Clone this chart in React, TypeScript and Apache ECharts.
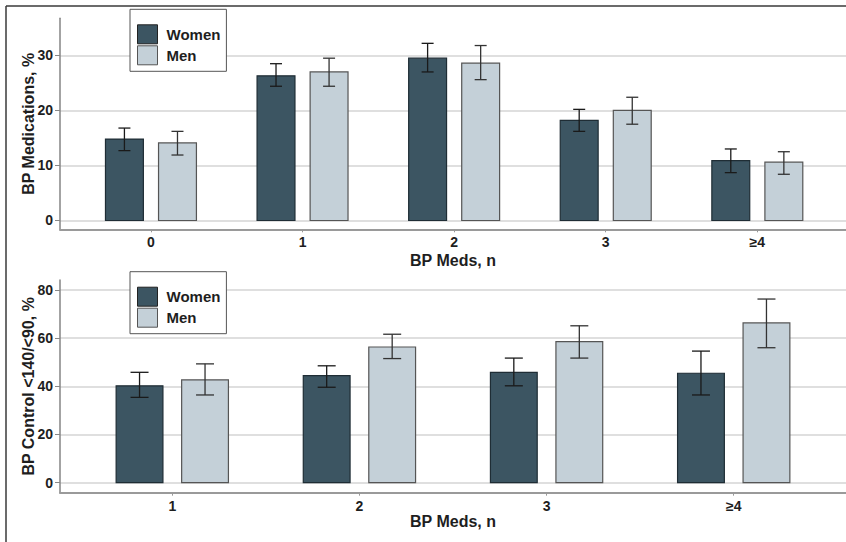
import React, { useEffect, useRef } from 'react';
import * as echarts from 'echarts';

const topCategories = ['0', '1', '2', '3', '≥4'];
const topWomen = [14.8, 26.3, 29.5, 18.2, 10.9];
const topWomenLow = [12.7, 24.4, 27.0, 16.2, 8.7];
const topWomenHigh = [16.8, 28.5, 32.2, 20.2, 13.0];
const topMen = [14.1, 27.0, 28.6, 20.0, 10.6];
const topMenLow = [11.9, 24.4, 25.6, 17.5, 8.4];
const topMenHigh = [16.2, 29.5, 31.8, 22.4, 12.5];
const topYTicks = [0, 10, 20, 30];

const bottomCategories = ['1', '2', '3', '≥4'];
const bottomWomen = [40.2, 44.4, 45.8, 45.4];
const bottomWomenLow = [35.4, 39.6, 40.2, 36.4];
const bottomWomenHigh = [45.8, 48.5, 51.7, 54.6];
const bottomMen = [42.7, 56.3, 58.5, 66.3];
const bottomMenLow = [36.4, 51.5, 51.7, 56.0];
const bottomMenHigh = [49.3, 61.6, 65.1, 76.2];
const bottomYTicks = [0, 20, 40, 60, 80];

const FONT = 'Liberation Sans, Arial, sans-serif';
const WOMEN_FILL = '#3c5562';
const MEN_FILL = '#c4d0d8';
const TEXT = '#1e1e1e';

function makeRender(offset: number, halfWidth: number, capPx: number, fill: string, border: string, errColor: string) {
  return (_params: any, api: any) => {
    const i = api.value(0);
    const v = api.value(1);
    const lo = api.value(2);
    const hi = api.value(3);
    const tl = api.coord([i + offset - halfWidth, v]);
    const br = api.coord([i + offset + halfWidth, 0]);
    const cx = api.coord([i + offset, v])[0];
    const yLo = api.coord([i, lo])[1];
    const yHi = api.coord([i, hi])[1];
    const es = { stroke: errColor, lineWidth: 1.3 };
    return {
      type: 'group',
      children: [
        {
          type: 'rect',
          shape: { x: tl[0], y: tl[1], width: br[0] - tl[0], height: br[1] - tl[1] },
          style: { fill, stroke: border, lineWidth: 1.2 },
        },
        { type: 'line', shape: { x1: cx, y1: yHi, x2: cx, y2: yLo }, style: es },
        { type: 'line', shape: { x1: cx - capPx / 2, y1: yHi, x2: cx + capPx / 2, y2: yHi }, style: es },
        { type: 'line', shape: { x1: cx - capPx / 2, y1: yLo, x2: cx + capPx / 2, y2: yLo }, style: es },
      ],
    };
  };
}

function rows(v: number[], lo: number[], hi: number[]) {
  return v.map((x, i) => [i, x, lo[i], hi[i]]);
}

function xAxisFor(gridIndex: number, cats: string[], max: number, nameGap: number) {
  const idx = cats.map((_, i) => i);
  return {
    type: 'value',
    gridIndex,
    min: -0.6,
    max,
    name: 'BP Meds, n',
    nameLocation: 'middle',
    nameGap,
    nameMoveOverlap: false,
    nameTextStyle: { fontFamily: FONT, fontWeight: 'bold', fontSize: 16, color: TEXT },
    axisLine: { show: true, onZero: false, lineStyle: { color: '#9a9a9a', width: 2 } },
    axisTick: { show: true, length: 3, customValues: idx, lineStyle: { color: '#999' } },
    axisLabel: {
      customValues: idx,
      margin: 6,
      fontFamily: FONT,
      fontWeight: 'bold',
      fontSize: 14,
      color: TEXT,
      formatter: (val: number) => cats[Math.round(val)] ?? '',
    },
    splitLine: { show: false },
  };
}

function yAxisFor(gridIndex: number, ticks: number[], min: number, max: number, name: string) {
  return {
    type: 'value',
    gridIndex,
    min,
    max,
    name,
    nameLocation: 'middle',
    nameGap: 24,
    nameMoveOverlap: false,
    nameTextStyle: { fontFamily: FONT, fontWeight: 'bold', fontSize: 16, color: TEXT },
    axisLine: { show: true, onZero: false, lineStyle: { color: '#858585', width: 1.5 } },
    axisTick: { show: true, length: 5, customValues: ticks, lineStyle: { color: '#888' } },
    axisLabel: {
      customValues: ticks,
      margin: 7,
      fontFamily: FONT,
      fontWeight: 'bold',
      fontSize: 14,
      color: TEXT,
    },
    splitLine: { show: true, lineStyle: { color: '#d4d4d4', width: 1.5 } },
  };
}

function legendFor(top: number) {
  return {
    left: 130,
    top,
    orient: 'vertical',
    selectedMode: false,
    itemWidth: 20,
    itemHeight: 19,
    itemGap: 1,
    padding: [15, 6, 6, 7],
    borderColor: '#555',
    borderWidth: 1,
    borderRadius: 0,
    backgroundColor: '#fff',
    textStyle: { fontFamily: FONT, fontWeight: 'bold', fontSize: 15, color: TEXT, padding: [0, 0, 0, 4] },
    data: [
      { name: 'Women', icon: 'rect', itemStyle: { color: WOMEN_FILL, borderColor: '#222', borderWidth: 1 } },
      { name: 'Men', icon: 'rect', itemStyle: { color: MEN_FILL, borderColor: '#555', borderWidth: 1 } },
    ],
  };
}

export default function App() {
  const ref = useRef<HTMLDivElement>(null);
  useEffect(() => {
    if (!ref.current) return;
    const chart = echarts.init(ref.current, null, { renderer: 'svg' });
    const option: any = {
      animation: false,
      backgroundColor: '#fff',
      grid: [
        { left: 60, top: 18.3, width: 786, height: 211 },
        { left: 60, top: 280, width: 786, height: 212.7 },
      ],
      xAxis: [
        xAxisFor(0, topCategories, 4.585, 23),
        xAxisFor(1, bottomCategories, 3.6, 21),
      ],
      yAxis: [
        yAxisFor(0, topYTicks, -1.6, 36.75, 'BP Medications, %'),
        yAxisFor(1, bottomYTicks, -4.15, 84.1, 'BP Control <140/<90, %'),
      ],
      legend: [legendFor(9.3), legendFor(271.7)],
      series: [
        {
          type: 'custom', name: 'Women', xAxisIndex: 0, yAxisIndex: 0,
          itemStyle: { color: WOMEN_FILL },
          encode: { x: 0, y: 1 },
          renderItem: makeRender(-0.175, 0.125, 12, WOMEN_FILL, '#1f2d35', '#1a1a1a'),
          data: rows(topWomen, topWomenLow, topWomenHigh),
        },
        {
          type: 'custom', name: 'Men', xAxisIndex: 0, yAxisIndex: 0,
          itemStyle: { color: MEN_FILL },
          encode: { x: 0, y: 1 },
          renderItem: makeRender(0.175, 0.125, 12, MEN_FILL, '#555', '#333'),
          data: rows(topMen, topMenLow, topMenHigh),
        },
        {
          type: 'custom', name: 'Women', xAxisIndex: 1, yAxisIndex: 1,
          itemStyle: { color: WOMEN_FILL },
          encode: { x: 0, y: 1 },
          renderItem: makeRender(-0.175, 0.125, 18, WOMEN_FILL, '#1f2d35', '#1a1a1a'),
          data: rows(bottomWomen, bottomWomenLow, bottomWomenHigh),
        },
        {
          type: 'custom', name: 'Men', xAxisIndex: 1, yAxisIndex: 1,
          itemStyle: { color: MEN_FILL },
          encode: { x: 0, y: 1 },
          renderItem: makeRender(0.175, 0.125, 18, MEN_FILL, '#555', '#333'),
          data: rows(bottomMen, bottomMenLow, bottomMenHigh),
        },
      ],
      graphic: [
        { type: 'line', silent: true, shape: { x1: 6, y1: 6, x2: 846, y2: 6 }, style: { stroke: '#3a3a3a', lineWidth: 1.5 } },
        { type: 'line', silent: true, shape: { x1: 6, y1: 6, x2: 6, y2: 542 }, style: { stroke: '#3a3a3a', lineWidth: 1.5 } },
      ],
    };
    chart.setOption(option);
    return () => chart.dispose();
  }, []);
  return (
    <div
      ref={ref}
      style={{ position: 'fixed', left: 0, top: 0, width: 846, height: 542, background: '#fff' }}
    />
  );
}
